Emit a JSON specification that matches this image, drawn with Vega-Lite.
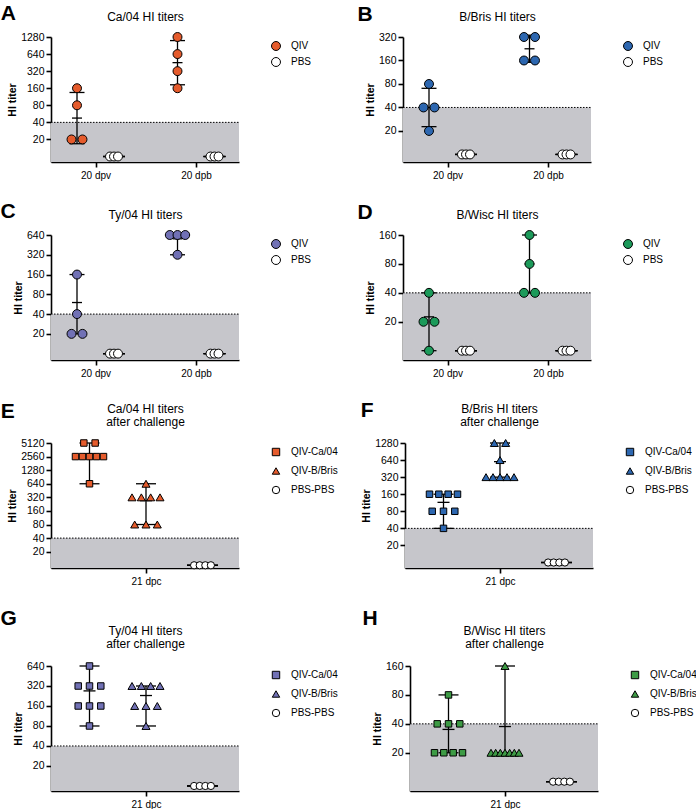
{
"$schema": "https://vega.github.io/schema/vega-lite/v6.json",
"padding": {"left": 0, "top": 2, "right": 2, "bottom": 0},
"config": {
 "font": "Liberation Sans",
 "view": {"stroke": null},
 "axis": {"grid": false, "domainColor": "black", "domainWidth": 1.6, "tickColor": "black", "tickWidth": 1.6, "tickSize": 5, "labelColor": "black", "labelFontSize": 10.5, "labelFont": "Liberation Sans", "labelPadding": 2, "titleFont": "Liberation Sans", "titleFontSize": 10.5, "titleFontWeight": "bold", "titleColor": "black", "titlePadding": 3, "labelOverlap": false, "labelFlush": false},
 "axisX": {"labelFontSize": 10, "labelPadding": 3},
 "legend": {"labelFont": "Liberation Sans", "labelFontSize": 10, "labelColor": "black", "symbolStrokeWidth": 1, "symbolSize": 80, "offset": 28, "padding": 4, "labelOffset": 10, "symbolOpacity": 1},
 "title": {"font": "Liberation Sans", "fontSize": 21, "fontWeight": "bold", "color": "black", "anchor": "start", "frame": "bounds", "offset": 0}
},
"datasets": {
 "lod": [{"lod": 40}],
 "pts": [
  {"p":"A","t":"20 dpv","g":"QIV","v":160},{"p":"A","t":"20 dpv","g":"QIV","v":80},{"p":"A","t":"20 dpv","g":"QIV","v":20},{"p":"A","t":"20 dpv","g":"QIV","v":20},
  {"p":"A","t":"20 dpv","g":"PBS","v":10},{"p":"A","t":"20 dpv","g":"PBS","v":10},{"p":"A","t":"20 dpv","g":"PBS","v":10},
  {"p":"A","t":"20 dpb","g":"QIV","v":1280},{"p":"A","t":"20 dpb","g":"QIV","v":640},{"p":"A","t":"20 dpb","g":"QIV","v":320},{"p":"A","t":"20 dpb","g":"QIV","v":160},
  {"p":"A","t":"20 dpb","g":"PBS","v":10},{"p":"A","t":"20 dpb","g":"PBS","v":10},{"p":"A","t":"20 dpb","g":"PBS","v":10},
  {"p":"B","t":"20 dpv","g":"QIV","v":80},{"p":"B","t":"20 dpv","g":"QIV","v":40},{"p":"B","t":"20 dpv","g":"QIV","v":40},{"p":"B","t":"20 dpv","g":"QIV","v":20},
  {"p":"B","t":"20 dpv","g":"PBS","v":10},{"p":"B","t":"20 dpv","g":"PBS","v":10},{"p":"B","t":"20 dpv","g":"PBS","v":10},
  {"p":"B","t":"20 dpb","g":"QIV","v":320},{"p":"B","t":"20 dpb","g":"QIV","v":320},{"p":"B","t":"20 dpb","g":"QIV","v":160},{"p":"B","t":"20 dpb","g":"QIV","v":160},
  {"p":"B","t":"20 dpb","g":"PBS","v":10},{"p":"B","t":"20 dpb","g":"PBS","v":10},{"p":"B","t":"20 dpb","g":"PBS","v":10},
  {"p":"C","t":"20 dpv","g":"QIV","v":160},{"p":"C","t":"20 dpv","g":"QIV","v":40},{"p":"C","t":"20 dpv","g":"QIV","v":20},{"p":"C","t":"20 dpv","g":"QIV","v":20},
  {"p":"C","t":"20 dpv","g":"PBS","v":10},{"p":"C","t":"20 dpv","g":"PBS","v":10},{"p":"C","t":"20 dpv","g":"PBS","v":10},
  {"p":"C","t":"20 dpb","g":"QIV","v":640},{"p":"C","t":"20 dpb","g":"QIV","v":640},{"p":"C","t":"20 dpb","g":"QIV","v":640},{"p":"C","t":"20 dpb","g":"QIV","v":320},
  {"p":"C","t":"20 dpb","g":"PBS","v":10},{"p":"C","t":"20 dpb","g":"PBS","v":10},{"p":"C","t":"20 dpb","g":"PBS","v":10},
  {"p":"D","t":"20 dpv","g":"QIV","v":40},{"p":"D","t":"20 dpv","g":"QIV","v":20},{"p":"D","t":"20 dpv","g":"QIV","v":20},{"p":"D","t":"20 dpv","g":"QIV","v":10},
  {"p":"D","t":"20 dpv","g":"PBS","v":10},{"p":"D","t":"20 dpv","g":"PBS","v":10},{"p":"D","t":"20 dpv","g":"PBS","v":10},
  {"p":"D","t":"20 dpb","g":"QIV","v":160},{"p":"D","t":"20 dpb","g":"QIV","v":80},{"p":"D","t":"20 dpb","g":"QIV","v":40},{"p":"D","t":"20 dpb","g":"QIV","v":40},
  {"p":"D","t":"20 dpb","g":"PBS","v":10},{"p":"D","t":"20 dpb","g":"PBS","v":10},{"p":"D","t":"20 dpb","g":"PBS","v":10},
  {"p":"E","t":"21 dpc","g":"QIV-Ca/04","v":5120},{"p":"E","t":"21 dpc","g":"QIV-Ca/04","v":5120},{"p":"E","t":"21 dpc","g":"QIV-Ca/04","v":2560},{"p":"E","t":"21 dpc","g":"QIV-Ca/04","v":2560},{"p":"E","t":"21 dpc","g":"QIV-Ca/04","v":2560},{"p":"E","t":"21 dpc","g":"QIV-Ca/04","v":2560},{"p":"E","t":"21 dpc","g":"QIV-Ca/04","v":2560},{"p":"E","t":"21 dpc","g":"QIV-Ca/04","v":640},
  {"p":"E","t":"21 dpc","g":"QIV-B/Bris","v":640},{"p":"E","t":"21 dpc","g":"QIV-B/Bris","v":320},{"p":"E","t":"21 dpc","g":"QIV-B/Bris","v":320},{"p":"E","t":"21 dpc","g":"QIV-B/Bris","v":320},{"p":"E","t":"21 dpc","g":"QIV-B/Bris","v":320},{"p":"E","t":"21 dpc","g":"QIV-B/Bris","v":80},{"p":"E","t":"21 dpc","g":"QIV-B/Bris","v":80},{"p":"E","t":"21 dpc","g":"QIV-B/Bris","v":80},
  {"p":"E","t":"21 dpc","g":"PBS-PBS","v":10},{"p":"E","t":"21 dpc","g":"PBS-PBS","v":10},{"p":"E","t":"21 dpc","g":"PBS-PBS","v":10},{"p":"E","t":"21 dpc","g":"PBS-PBS","v":10},
  {"p":"F","t":"21 dpc","g":"QIV-Ca/04","v":160},{"p":"F","t":"21 dpc","g":"QIV-Ca/04","v":160},{"p":"F","t":"21 dpc","g":"QIV-Ca/04","v":160},{"p":"F","t":"21 dpc","g":"QIV-Ca/04","v":160},{"p":"F","t":"21 dpc","g":"QIV-Ca/04","v":80},{"p":"F","t":"21 dpc","g":"QIV-Ca/04","v":80},{"p":"F","t":"21 dpc","g":"QIV-Ca/04","v":80},{"p":"F","t":"21 dpc","g":"QIV-Ca/04","v":40},
  {"p":"F","t":"21 dpc","g":"QIV-B/Bris","v":1280},{"p":"F","t":"21 dpc","g":"QIV-B/Bris","v":1280},{"p":"F","t":"21 dpc","g":"QIV-B/Bris","v":640},{"p":"F","t":"21 dpc","g":"QIV-B/Bris","v":320},{"p":"F","t":"21 dpc","g":"QIV-B/Bris","v":320},{"p":"F","t":"21 dpc","g":"QIV-B/Bris","v":320},{"p":"F","t":"21 dpc","g":"QIV-B/Bris","v":320},{"p":"F","t":"21 dpc","g":"QIV-B/Bris","v":320},
  {"p":"F","t":"21 dpc","g":"PBS-PBS","v":10},{"p":"F","t":"21 dpc","g":"PBS-PBS","v":10},{"p":"F","t":"21 dpc","g":"PBS-PBS","v":10},{"p":"F","t":"21 dpc","g":"PBS-PBS","v":10},
  {"p":"G","t":"21 dpc","g":"QIV-Ca/04","v":640},{"p":"G","t":"21 dpc","g":"QIV-Ca/04","v":320},{"p":"G","t":"21 dpc","g":"QIV-Ca/04","v":320},{"p":"G","t":"21 dpc","g":"QIV-Ca/04","v":320},{"p":"G","t":"21 dpc","g":"QIV-Ca/04","v":160},{"p":"G","t":"21 dpc","g":"QIV-Ca/04","v":160},{"p":"G","t":"21 dpc","g":"QIV-Ca/04","v":160},{"p":"G","t":"21 dpc","g":"QIV-Ca/04","v":80},
  {"p":"G","t":"21 dpc","g":"QIV-B/Bris","v":320},{"p":"G","t":"21 dpc","g":"QIV-B/Bris","v":320},{"p":"G","t":"21 dpc","g":"QIV-B/Bris","v":320},{"p":"G","t":"21 dpc","g":"QIV-B/Bris","v":320},{"p":"G","t":"21 dpc","g":"QIV-B/Bris","v":160},{"p":"G","t":"21 dpc","g":"QIV-B/Bris","v":160},{"p":"G","t":"21 dpc","g":"QIV-B/Bris","v":160},{"p":"G","t":"21 dpc","g":"QIV-B/Bris","v":80},
  {"p":"G","t":"21 dpc","g":"PBS-PBS","v":10},{"p":"G","t":"21 dpc","g":"PBS-PBS","v":10},{"p":"G","t":"21 dpc","g":"PBS-PBS","v":10},{"p":"G","t":"21 dpc","g":"PBS-PBS","v":10},
  {"p":"H","t":"21 dpc","g":"QIV-Ca/04","v":80},{"p":"H","t":"21 dpc","g":"QIV-Ca/04","v":40},{"p":"H","t":"21 dpc","g":"QIV-Ca/04","v":40},{"p":"H","t":"21 dpc","g":"QIV-Ca/04","v":40},{"p":"H","t":"21 dpc","g":"QIV-Ca/04","v":20},{"p":"H","t":"21 dpc","g":"QIV-Ca/04","v":20},{"p":"H","t":"21 dpc","g":"QIV-Ca/04","v":20},{"p":"H","t":"21 dpc","g":"QIV-Ca/04","v":20},
  {"p":"H","t":"21 dpc","g":"QIV-B/Bris","v":160},{"p":"H","t":"21 dpc","g":"QIV-B/Bris","v":20},{"p":"H","t":"21 dpc","g":"QIV-B/Bris","v":20},{"p":"H","t":"21 dpc","g":"QIV-B/Bris","v":20},{"p":"H","t":"21 dpc","g":"QIV-B/Bris","v":20},{"p":"H","t":"21 dpc","g":"QIV-B/Bris","v":20},{"p":"H","t":"21 dpc","g":"QIV-B/Bris","v":20},{"p":"H","t":"21 dpc","g":"QIV-B/Bris","v":20},
  {"p":"H","t":"21 dpc","g":"PBS-PBS","v":10},{"p":"H","t":"21 dpc","g":"PBS-PBS","v":10},{"p":"H","t":"21 dpc","g":"PBS-PBS","v":10},{"p":"H","t":"21 dpc","g":"PBS-PBS","v":10}
 ],
 "sum": [
  {"p":"A","t":"20 dpv","g":"QIV","m":47.6,"lo":16.8,"hi":134.6},{"p":"A","t":"20 dpv","g":"PBS","m":10,"lo":10,"hi":10},
  {"p":"A","t":"20 dpb","g":"QIV","m":452,"lo":184,"hi":1107},{"p":"A","t":"20 dpb","g":"PBS","m":10,"lo":10,"hi":10},
  {"p":"B","t":"20 dpv","g":"QIV","m":40,"lo":22.7,"hi":70.4},{"p":"B","t":"20 dpv","g":"PBS","m":10,"lo":10,"hi":10},
  {"p":"B","t":"20 dpb","g":"QIV","m":226,"lo":151.6,"hi":337.5},{"p":"B","t":"20 dpb","g":"PBS","m":10,"lo":10,"hi":10},
  {"p":"C","t":"20 dpv","g":"QIV","m":60,"lo":20,"hi":160},{"p":"C","t":"20 dpv","g":"PBS","m":10,"lo":10,"hi":10},
  {"p":"C","t":"20 dpb","g":"QIV","m":560,"lo":320,"hi":640},{"p":"C","t":"20 dpb","g":"PBS","m":10,"lo":10,"hi":10},
  {"p":"D","t":"20 dpv","g":"QIV","m":22.5,"lo":10,"hi":40},{"p":"D","t":"20 dpv","g":"PBS","m":10,"lo":10,"hi":10},
  {"p":"D","t":"20 dpb","g":"QIV","m":80,"lo":40,"hi":160},{"p":"D","t":"20 dpb","g":"PBS","m":10,"lo":10,"hi":10},
  {"p":"E","t":"21 dpc","g":"QIV-Ca/04","m":2960,"lo":640,"hi":5120},{"p":"E","t":"21 dpc","g":"QIV-B/Bris","m":270,"lo":80,"hi":640},{"p":"E","t":"21 dpc","g":"PBS-PBS","m":10,"lo":10,"hi":10},
  {"p":"F","t":"21 dpc","g":"QIV-Ca/04","m":115,"lo":40,"hi":160},{"p":"F","t":"21 dpc","g":"QIV-B/Bris","m":600,"lo":320,"hi":1280},{"p":"F","t":"21 dpc","g":"PBS-PBS","m":10,"lo":10,"hi":10},
  {"p":"G","t":"21 dpc","g":"QIV-Ca/04","m":270,"lo":80,"hi":640},{"p":"G","t":"21 dpc","g":"QIV-B/Bris","m":230,"lo":80,"hi":320},{"p":"G","t":"21 dpc","g":"PBS-PBS","m":10,"lo":10,"hi":10},
  {"p":"H","t":"21 dpc","g":"QIV-Ca/04","m":35,"lo":20,"hi":80},{"p":"H","t":"21 dpc","g":"QIV-B/Bris","m":37.5,"lo":20,"hi":160},{"p":"H","t":"21 dpc","g":"PBS-PBS","m":10,"lo":10,"hi":10}
 ]
},
"spacing": 21,
"resolve": {"scale": {"fill": "independent", "shape": "independent", "stroke": "independent"}},
"vconcat": [
 {"hconcat": [
  {"width": 188, "height": 125, "title": {"text": "A", "dx": -7, "dy": 17.5},
   "resolve": {"scale": {"x": "independent"}},
   "layer": [
    {"data": {"name": "lod"}, "layer": [
     {"mark": {"type": "rect", "color": "#C6C6CB"},
      "encoding": {"x": {"datum": -44.5, "type": "quantitative", "scale": {"domain": [-44.5, 143.5], "nice": false, "zero": false}, "axis": {"orient": "top", "title": "Ca/04 HI titers", "domain": false, "ticks": false, "labels": false, "titlePadding": 14, "titleFontSize": 12, "titleFontWeight": "normal"}},
       "x2": {"datum": 143.5},
       "y": {"field": "lod", "type": "quantitative", "scale": {"type": "log", "base": 2, "domain": [8, 1280], "nice": false}, "axis": {"values": [20,40,80,160,320,640,1280], "title": "HI titer", "format": "d"}},
       "y2": {"datum": 8}}},
     {"mark": {"type": "rule", "color": "black", "strokeWidth": 1, "strokeDash": [1.5, 1.5]},
      "encoding": {"x": {"datum": -44.5, "type": "quantitative"}, "x2": {"datum": 143.5}, "y": {"field": "lod", "type": "quantitative"}}}
    ]},
    {"layer": [
     {"data": {"name": "sum"}, "transform": [{"filter": "datum.p == 'A'"}, {"calculate": "(datum.t == '20 dpb' ? 100.5 : 0) + (datum.g == 'QIV' ? -18.5 : 18.5)", "as": "c"}],
      "encoding": {"x": {"field": "c", "type": "quantitative", "scale": {"domain": [-44.5, 143.5], "nice": false, "zero": false}, "axis": {"orient": "bottom", "values": [0, 100.5], "labelExpr": "datum.value == 0 ? '20 dpv' : '20 dpb'", "title": null}}},
      "layer": [
       {"mark": {"type": "rule", "color": "black", "strokeWidth": 1.3}, "encoding": {"y": {"field": "lo", "type": "quantitative"}, "y2": {"field": "hi"}}},
       {"mark": {"type": "tick", "orient": "horizontal", "color": "black", "thickness": 1.3, "opacity": 1}, "encoding": {"y": {"field": "lo", "type": "quantitative"}, "size": {"condition": {"test": "datum.g == 'PBS'", "value": 22}, "value": 15}}},
       {"mark": {"type": "tick", "orient": "horizontal", "color": "black", "thickness": 1.3, "opacity": 1}, "encoding": {"y": {"field": "hi", "type": "quantitative"}, "size": {"condition": {"test": "datum.g == 'PBS'", "value": 22}, "value": 15}}},
       {"mark": {"type": "tick", "orient": "horizontal", "color": "black", "thickness": 1.3, "opacity": 1}, "encoding": {"y": {"field": "m", "type": "quantitative"}, "size": {"condition": {"test": "datum.g == 'PBS'", "value": 22}, "value": 10}}}
      ]},
     {"data": {"name": "pts"}, "transform": [{"filter": "datum.p == 'A'"}, {"window": [{"op": "row_number", "as": "r"}, {"op": "count", "as": "n"}], "groupby": ["t", "g", "v"], "frame": [null, null]}, {"calculate": "(datum.t == '20 dpb' ? 100.5 : 0) + (datum.g == 'QIV' ? -18.5 : 18.5)", "as": "c"}, {"calculate": "datum.c + (datum.g == 'PBS' ? 4 : min(11, 15.4 / (datum.n - 1))) * (datum.r - (datum.n + 1) / 2)", "as": "xp"}],
      "mark": {"type": "point", "filled": true, "opacity": 1, "strokeWidth": 1, "size": 80},
      "encoding": {"x": {"field": "xp", "type": "quantitative"}, "y": {"field": "v", "type": "quantitative"},
       "fill": {"field": "g", "type": "nominal", "scale": {"domain": ["QIV", "PBS"], "range": ["#E55B2C", "white"]}, "legend": {"title": null, "rowPadding": 2}},
       "stroke": {"field": "g", "type": "nominal", "scale": {"domain": ["QIV", "PBS"], "range": ["black", "black"]}, "legend": {"title": null, "rowPadding": 2}},
       "shape": {"field": "g", "type": "nominal", "scale": {"domain": ["QIV", "PBS"], "range": ["circle", "circle"]}, "legend": {"title": null, "rowPadding": 2}}}}
    ]}
   ]},
  {"width": 188, "height": 125, "title": {"text": "B", "dx": -8, "dy": 19},
   "resolve": {"scale": {"x": "independent"}},
   "layer": [
    {"data": {"name": "lod"}, "layer": [
     {"mark": {"type": "rect", "color": "#C6C6CB"},
      "encoding": {"x": {"datum": -44.5, "type": "quantitative", "scale": {"domain": [-44.5, 143.5], "nice": false, "zero": false}, "axis": {"orient": "top", "title": "B/Bris HI titers", "domain": false, "ticks": false, "labels": false, "titlePadding": 14, "titleFontSize": 12, "titleFontWeight": "normal"}},
       "x2": {"datum": 143.5},
       "y": {"field": "lod", "type": "quantitative", "scale": {"type": "log", "base": 2, "domain": [8, 320], "nice": false}, "axis": {"values": [20,40,80,160,320], "title": "HI titer", "format": "d"}},
       "y2": {"datum": 8}}},
     {"mark": {"type": "rule", "color": "black", "strokeWidth": 1, "strokeDash": [1.5, 1.5]},
      "encoding": {"x": {"datum": -44.5, "type": "quantitative"}, "x2": {"datum": 143.5}, "y": {"field": "lod", "type": "quantitative"}}}
    ]},
    {"layer": [
     {"data": {"name": "sum"}, "transform": [{"filter": "datum.p == 'B'"}, {"calculate": "(datum.t == '20 dpb' ? 100.5 : 0) + (datum.g == 'QIV' ? -18.5 : 18.5)", "as": "c"}],
      "encoding": {"x": {"field": "c", "type": "quantitative", "scale": {"domain": [-44.5, 143.5], "nice": false, "zero": false}, "axis": {"orient": "bottom", "values": [0, 100.5], "labelExpr": "datum.value == 0 ? '20 dpv' : '20 dpb'", "title": null}}},
      "layer": [
       {"mark": {"type": "rule", "color": "black", "strokeWidth": 1.3}, "encoding": {"y": {"field": "lo", "type": "quantitative"}, "y2": {"field": "hi"}}},
       {"mark": {"type": "tick", "orient": "horizontal", "color": "black", "thickness": 1.3, "opacity": 1}, "encoding": {"y": {"field": "lo", "type": "quantitative"}, "size": {"condition": {"test": "datum.g == 'PBS'", "value": 22}, "value": 15}}},
       {"mark": {"type": "tick", "orient": "horizontal", "color": "black", "thickness": 1.3, "opacity": 1}, "encoding": {"y": {"field": "hi", "type": "quantitative"}, "size": {"condition": {"test": "datum.g == 'PBS'", "value": 22}, "value": 15}}},
       {"mark": {"type": "tick", "orient": "horizontal", "color": "black", "thickness": 1.3, "opacity": 1}, "encoding": {"y": {"field": "m", "type": "quantitative"}, "size": {"condition": {"test": "datum.g == 'PBS'", "value": 22}, "value": 10}}}
      ]},
     {"data": {"name": "pts"}, "transform": [{"filter": "datum.p == 'B'"}, {"window": [{"op": "row_number", "as": "r"}, {"op": "count", "as": "n"}], "groupby": ["t", "g", "v"], "frame": [null, null]}, {"calculate": "(datum.t == '20 dpb' ? 100.5 : 0) + (datum.g == 'QIV' ? -18.5 : 18.5)", "as": "c"}, {"calculate": "datum.c + (datum.g == 'PBS' ? 4 : min(11, 15.4 / (datum.n - 1))) * (datum.r - (datum.n + 1) / 2)", "as": "xp"}],
      "mark": {"type": "point", "filled": true, "opacity": 1, "strokeWidth": 1, "size": 80},
      "encoding": {"x": {"field": "xp", "type": "quantitative"}, "y": {"field": "v", "type": "quantitative"},
       "fill": {"field": "g", "type": "nominal", "scale": {"domain": ["QIV", "PBS"], "range": ["#2D67B0", "white"]}, "legend": {"title": null, "rowPadding": 2}},
       "stroke": {"field": "g", "type": "nominal", "scale": {"domain": ["QIV", "PBS"], "range": ["black", "black"]}, "legend": {"title": null, "rowPadding": 2}},
       "shape": {"field": "g", "type": "nominal", "scale": {"domain": ["QIV", "PBS"], "range": ["circle", "circle"]}, "legend": {"title": null, "rowPadding": 2}}}}
    ]}
   ]}
 ], "spacing": 41, "resolve": {"scale": {"fill": "independent", "shape": "independent", "stroke": "independent"}}},
 {"hconcat": [
  {"width": 188, "height": 125, "title": {"text": "C", "dx": -13, "dy": 18},
   "resolve": {"scale": {"x": "independent"}},
   "layer": [
    {"data": {"name": "lod"}, "layer": [
     {"mark": {"type": "rect", "color": "#C6C6CB"},
      "encoding": {"x": {"datum": -44.5, "type": "quantitative", "scale": {"domain": [-44.5, 143.5], "nice": false, "zero": false}, "axis": {"orient": "top", "title": "Ty/04 HI titers", "domain": false, "ticks": false, "labels": false, "titlePadding": 14, "titleFontSize": 12, "titleFontWeight": "normal"}},
       "x2": {"datum": 143.5},
       "y": {"field": "lod", "type": "quantitative", "scale": {"type": "log", "base": 2, "domain": [8, 640], "nice": false}, "axis": {"values": [20,40,80,160,320,640], "title": "HI titer", "format": "d"}},
       "y2": {"datum": 8}}},
     {"mark": {"type": "rule", "color": "black", "strokeWidth": 1, "strokeDash": [1.5, 1.5]},
      "encoding": {"x": {"datum": -44.5, "type": "quantitative"}, "x2": {"datum": 143.5}, "y": {"field": "lod", "type": "quantitative"}}}
    ]},
    {"layer": [
     {"data": {"name": "sum"}, "transform": [{"filter": "datum.p == 'C'"}, {"calculate": "(datum.t == '20 dpb' ? 100.5 : 0) + (datum.g == 'QIV' ? -18.5 : 18.5)", "as": "c"}],
      "encoding": {"x": {"field": "c", "type": "quantitative", "scale": {"domain": [-44.5, 143.5], "nice": false, "zero": false}, "axis": {"orient": "bottom", "values": [0, 100.5], "labelExpr": "datum.value == 0 ? '20 dpv' : '20 dpb'", "title": null}}},
      "layer": [
       {"mark": {"type": "rule", "color": "black", "strokeWidth": 1.3}, "encoding": {"y": {"field": "lo", "type": "quantitative"}, "y2": {"field": "hi"}}},
       {"mark": {"type": "tick", "orient": "horizontal", "color": "black", "thickness": 1.3, "opacity": 1}, "encoding": {"y": {"field": "lo", "type": "quantitative"}, "size": {"condition": {"test": "datum.g == 'PBS'", "value": 22}, "value": 15}}},
       {"mark": {"type": "tick", "orient": "horizontal", "color": "black", "thickness": 1.3, "opacity": 1}, "encoding": {"y": {"field": "hi", "type": "quantitative"}, "size": {"condition": {"test": "datum.g == 'PBS'", "value": 22}, "value": 15}}},
       {"mark": {"type": "tick", "orient": "horizontal", "color": "black", "thickness": 1.3, "opacity": 1}, "encoding": {"y": {"field": "m", "type": "quantitative"}, "size": {"condition": {"test": "datum.g == 'PBS'", "value": 22}, "value": 10}}}
      ]},
     {"data": {"name": "pts"}, "transform": [{"filter": "datum.p == 'C'"}, {"window": [{"op": "row_number", "as": "r"}, {"op": "count", "as": "n"}], "groupby": ["t", "g", "v"], "frame": [null, null]}, {"calculate": "(datum.t == '20 dpb' ? 100.5 : 0) + (datum.g == 'QIV' ? -18.5 : 18.5)", "as": "c"}, {"calculate": "datum.c + (datum.g == 'PBS' ? 4 : min(11, 15.4 / (datum.n - 1))) * (datum.r - (datum.n + 1) / 2)", "as": "xp"}],
      "mark": {"type": "point", "filled": true, "opacity": 1, "strokeWidth": 1, "size": 80},
      "encoding": {"x": {"field": "xp", "type": "quantitative"}, "y": {"field": "v", "type": "quantitative"},
       "fill": {"field": "g", "type": "nominal", "scale": {"domain": ["QIV", "PBS"], "range": ["#7171B5", "white"]}, "legend": {"title": null, "rowPadding": 2}},
       "stroke": {"field": "g", "type": "nominal", "scale": {"domain": ["QIV", "PBS"], "range": ["black", "black"]}, "legend": {"title": null, "rowPadding": 2}},
       "shape": {"field": "g", "type": "nominal", "scale": {"domain": ["QIV", "PBS"], "range": ["circle", "circle"]}, "legend": {"title": null, "rowPadding": 2}}}}
    ]}
   ]},
  {"width": 188, "height": 125, "title": {"text": "D", "dx": -8, "dy": 19},
   "resolve": {"scale": {"x": "independent"}},
   "layer": [
    {"data": {"name": "lod"}, "layer": [
     {"mark": {"type": "rect", "color": "#C6C6CB"},
      "encoding": {"x": {"datum": -44.5, "type": "quantitative", "scale": {"domain": [-44.5, 143.5], "nice": false, "zero": false}, "axis": {"orient": "top", "title": "B/Wisc HI titers", "domain": false, "ticks": false, "labels": false, "titlePadding": 14, "titleFontSize": 12, "titleFontWeight": "normal"}},
       "x2": {"datum": 143.5},
       "y": {"field": "lod", "type": "quantitative", "scale": {"type": "log", "base": 2, "domain": [8, 160], "nice": false}, "axis": {"values": [20,40,80,160], "title": "HI titer", "format": "d"}},
       "y2": {"datum": 8}}},
     {"mark": {"type": "rule", "color": "black", "strokeWidth": 1, "strokeDash": [1.5, 1.5]},
      "encoding": {"x": {"datum": -44.5, "type": "quantitative"}, "x2": {"datum": 143.5}, "y": {"field": "lod", "type": "quantitative"}}}
    ]},
    {"layer": [
     {"data": {"name": "sum"}, "transform": [{"filter": "datum.p == 'D'"}, {"calculate": "(datum.t == '20 dpb' ? 100.5 : 0) + (datum.g == 'QIV' ? -18.5 : 18.5)", "as": "c"}],
      "encoding": {"x": {"field": "c", "type": "quantitative", "scale": {"domain": [-44.5, 143.5], "nice": false, "zero": false}, "axis": {"orient": "bottom", "values": [0, 100.5], "labelExpr": "datum.value == 0 ? '20 dpv' : '20 dpb'", "title": null}}},
      "layer": [
       {"mark": {"type": "rule", "color": "black", "strokeWidth": 1.3}, "encoding": {"y": {"field": "lo", "type": "quantitative"}, "y2": {"field": "hi"}}},
       {"mark": {"type": "tick", "orient": "horizontal", "color": "black", "thickness": 1.3, "opacity": 1}, "encoding": {"y": {"field": "lo", "type": "quantitative"}, "size": {"condition": {"test": "datum.g == 'PBS'", "value": 22}, "value": 15}}},
       {"mark": {"type": "tick", "orient": "horizontal", "color": "black", "thickness": 1.3, "opacity": 1}, "encoding": {"y": {"field": "hi", "type": "quantitative"}, "size": {"condition": {"test": "datum.g == 'PBS'", "value": 22}, "value": 15}}},
       {"mark": {"type": "tick", "orient": "horizontal", "color": "black", "thickness": 1.3, "opacity": 1}, "encoding": {"y": {"field": "m", "type": "quantitative"}, "size": {"condition": {"test": "datum.g == 'PBS'", "value": 22}, "value": 10}}}
      ]},
     {"data": {"name": "pts"}, "transform": [{"filter": "datum.p == 'D'"}, {"window": [{"op": "row_number", "as": "r"}, {"op": "count", "as": "n"}], "groupby": ["t", "g", "v"], "frame": [null, null]}, {"calculate": "(datum.t == '20 dpb' ? 100.5 : 0) + (datum.g == 'QIV' ? -18.5 : 18.5)", "as": "c"}, {"calculate": "datum.c + (datum.g == 'PBS' ? 4 : min(11, 15.4 / (datum.n - 1))) * (datum.r - (datum.n + 1) / 2)", "as": "xp"}],
      "mark": {"type": "point", "filled": true, "opacity": 1, "strokeWidth": 1, "size": 80},
      "encoding": {"x": {"field": "xp", "type": "quantitative"}, "y": {"field": "v", "type": "quantitative"},
       "fill": {"field": "g", "type": "nominal", "scale": {"domain": ["QIV", "PBS"], "range": ["#1C9A5A", "white"]}, "legend": {"title": null, "rowPadding": 2}},
       "stroke": {"field": "g", "type": "nominal", "scale": {"domain": ["QIV", "PBS"], "range": ["black", "black"]}, "legend": {"title": null, "rowPadding": 2}},
       "shape": {"field": "g", "type": "nominal", "scale": {"domain": ["QIV", "PBS"], "range": ["circle", "circle"]}, "legend": {"title": null, "rowPadding": 2}}}}
    ]}
   ]}
 ], "spacing": 41, "resolve": {"scale": {"fill": "independent", "shape": "independent", "stroke": "independent"}}},
 {"hconcat": [
  {"width": 188, "height": 125, "title": {"text": "E", "dx": -7, "dy": 23},
   "resolve": {"scale": {"x": "independent"}},
   "layer": [
    {"data": {"name": "lod"}, "layer": [
     {"mark": {"type": "rect", "color": "#C6C6CB"},
      "encoding": {"x": {"datum": -95, "type": "quantitative", "scale": {"domain": [-95, 93], "nice": false, "zero": false}, "axis": {"orient": "top", "title": ["Ca/04 HI titers", "after challenge"], "titleLineHeight": 12.5, "domain": false, "ticks": false, "labels": false, "titlePadding": 15, "titleFontSize": 12, "titleFontWeight": "normal"}},
       "x2": {"datum": 93},
       "y": {"field": "lod", "type": "quantitative", "scale": {"type": "log", "base": 2, "domain": [8.7, 5120], "nice": false}, "axis": {"values": [20,40,80,160,320,640,1280,2560,5120], "title": "HI titer", "format": "d"}},
       "y2": {"datum": 8.7}}},
     {"mark": {"type": "rule", "color": "black", "strokeWidth": 1, "strokeDash": [1.5, 1.5]},
      "encoding": {"x": {"datum": -95, "type": "quantitative"}, "x2": {"datum": 93}, "y": {"field": "lod", "type": "quantitative"}}}
    ]},
    {"layer": [
     {"data": {"name": "sum"}, "transform": [{"filter": "datum.p == 'E'"}, {"calculate": "datum.g == 'QIV-Ca/04' ? -56.5 : (datum.g == 'QIV-B/Bris' ? 0 : 56.5)", "as": "c"}],
      "encoding": {"x": {"field": "c", "type": "quantitative", "scale": {"domain": [-95, 93], "nice": false, "zero": false}, "axis": {"orient": "bottom", "values": [0], "labelExpr": "'21 dpc'", "title": null}}},
      "layer": [
       {"mark": {"type": "rule", "color": "black", "strokeWidth": 1.3}, "encoding": {"y": {"field": "lo", "type": "quantitative"}, "y2": {"field": "hi"}}},
       {"mark": {"type": "tick", "orient": "horizontal", "color": "black", "thickness": 1.3, "opacity": 1}, "encoding": {"y": {"field": "lo", "type": "quantitative"}, "size": {"condition": {"test": "datum.g == 'PBS-PBS'", "value": 31}, "value": 20}}},
       {"mark": {"type": "tick", "orient": "horizontal", "color": "black", "thickness": 1.3, "opacity": 1}, "encoding": {"y": {"field": "hi", "type": "quantitative"}, "size": {"condition": {"test": "datum.g == 'PBS-PBS'", "value": 31}, "value": 20}}},
       {"mark": {"type": "tick", "orient": "horizontal", "color": "black", "thickness": 1.3, "opacity": 1}, "encoding": {"y": {"field": "m", "type": "quantitative"}, "size": {"condition": {"test": "datum.g == 'PBS-PBS'", "value": 31}, "value": 12}}}
      ]},
     {"data": {"name": "pts"}, "transform": [{"filter": "datum.p == 'E'"}, {"window": [{"op": "row_number", "as": "r"}, {"op": "count", "as": "n"}], "groupby": ["t", "g", "v"], "frame": [null, null]}, {"calculate": "datum.g == 'QIV-Ca/04' ? -56.5 : (datum.g == 'QIV-B/Bris' ? 0 : 56.5)", "as": "c"}, {"calculate": "datum.c + (datum.g == 'PBS-PBS' ? 5.6 : min(11.3, 28 / (datum.n - 1))) * (datum.r - (datum.n + 1) / 2)", "as": "xp"}],
      "mark": {"type": "point", "filled": true, "opacity": 1, "strokeWidth": 1},
      "encoding": {"x": {"field": "xp", "type": "quantitative"}, "y": {"field": "v", "type": "quantitative"},
       "size": {"condition": [{"test": "datum.g == 'QIV-B/Bris'", "value": 64}, {"test": "datum.g == 'PBS-PBS'", "value": 52}], "value": 42},
       "fill": {"field": "g", "type": "nominal", "scale": {"domain": ["QIV-Ca/04", "QIV-B/Bris", "PBS-PBS"], "range": ["#E55B2C", "#E55B2C", "white"]}, "legend": {"title": null, "symbolSize": 55, "rowPadding": 7}},
       "stroke": {"field": "g", "type": "nominal", "scale": {"domain": ["QIV-Ca/04", "QIV-B/Bris", "PBS-PBS"], "range": ["black", "black", "black"]}, "legend": {"title": null, "symbolSize": 55, "rowPadding": 7}},
       "shape": {"field": "g", "type": "nominal", "scale": {"domain": ["QIV-Ca/04", "QIV-B/Bris", "PBS-PBS"], "range": ["square", "triangle-up", "circle"]}, "legend": {"title": null, "symbolSize": 55, "rowPadding": 7}}}}
    ]}
   ]},
  {"width": 188, "height": 125, "title": {"text": "F", "dx": -1, "dy": 22},
   "resolve": {"scale": {"x": "independent"}},
   "layer": [
    {"data": {"name": "lod"}, "layer": [
     {"mark": {"type": "rect", "color": "#C6C6CB"},
      "encoding": {"x": {"datum": -95, "type": "quantitative", "scale": {"domain": [-95, 93], "nice": false, "zero": false}, "axis": {"orient": "top", "title": ["B/Bris HI titers", "after challenge"], "titleLineHeight": 12.5, "domain": false, "ticks": false, "labels": false, "titlePadding": 15, "titleFontSize": 12, "titleFontWeight": "normal"}},
       "x2": {"datum": 93},
       "y": {"field": "lod", "type": "quantitative", "scale": {"type": "log", "base": 2, "domain": [8, 1280], "nice": false}, "axis": {"values": [20,40,80,160,320,640,1280], "title": "HI titer", "format": "d"}},
       "y2": {"datum": 8}}},
     {"mark": {"type": "rule", "color": "black", "strokeWidth": 1, "strokeDash": [1.5, 1.5]},
      "encoding": {"x": {"datum": -95, "type": "quantitative"}, "x2": {"datum": 93}, "y": {"field": "lod", "type": "quantitative"}}}
    ]},
    {"layer": [
     {"data": {"name": "sum"}, "transform": [{"filter": "datum.p == 'F'"}, {"calculate": "datum.g == 'QIV-Ca/04' ? -56.5 : (datum.g == 'QIV-B/Bris' ? 0 : 56.5)", "as": "c"}],
      "encoding": {"x": {"field": "c", "type": "quantitative", "scale": {"domain": [-95, 93], "nice": false, "zero": false}, "axis": {"orient": "bottom", "values": [0], "labelExpr": "'21 dpc'", "title": null}}},
      "layer": [
       {"mark": {"type": "rule", "color": "black", "strokeWidth": 1.3}, "encoding": {"y": {"field": "lo", "type": "quantitative"}, "y2": {"field": "hi"}}},
       {"mark": {"type": "tick", "orient": "horizontal", "color": "black", "thickness": 1.3, "opacity": 1}, "encoding": {"y": {"field": "lo", "type": "quantitative"}, "size": {"condition": {"test": "datum.g == 'PBS-PBS'", "value": 31}, "value": 20}}},
       {"mark": {"type": "tick", "orient": "horizontal", "color": "black", "thickness": 1.3, "opacity": 1}, "encoding": {"y": {"field": "hi", "type": "quantitative"}, "size": {"condition": {"test": "datum.g == 'PBS-PBS'", "value": 31}, "value": 20}}},
       {"mark": {"type": "tick", "orient": "horizontal", "color": "black", "thickness": 1.3, "opacity": 1}, "encoding": {"y": {"field": "m", "type": "quantitative"}, "size": {"condition": {"test": "datum.g == 'PBS-PBS'", "value": 31}, "value": 12}}}
      ]},
     {"data": {"name": "pts"}, "transform": [{"filter": "datum.p == 'F'"}, {"window": [{"op": "row_number", "as": "r"}, {"op": "count", "as": "n"}], "groupby": ["t", "g", "v"], "frame": [null, null]}, {"calculate": "datum.g == 'QIV-Ca/04' ? -56.5 : (datum.g == 'QIV-B/Bris' ? 0 : 56.5)", "as": "c"}, {"calculate": "datum.c + (datum.g == 'PBS-PBS' ? 5.6 : min(11.3, 28 / (datum.n - 1))) * (datum.r - (datum.n + 1) / 2)", "as": "xp"}],
      "mark": {"type": "point", "filled": true, "opacity": 1, "strokeWidth": 1},
      "encoding": {"x": {"field": "xp", "type": "quantitative"}, "y": {"field": "v", "type": "quantitative"},
       "size": {"condition": [{"test": "datum.g == 'QIV-B/Bris'", "value": 64}, {"test": "datum.g == 'PBS-PBS'", "value": 52}], "value": 42},
       "fill": {"field": "g", "type": "nominal", "scale": {"domain": ["QIV-Ca/04", "QIV-B/Bris", "PBS-PBS"], "range": ["#2D67B0", "#2D67B0", "white"]}, "legend": {"title": null, "symbolSize": 55, "rowPadding": 7}},
       "stroke": {"field": "g", "type": "nominal", "scale": {"domain": ["QIV-Ca/04", "QIV-B/Bris", "PBS-PBS"], "range": ["black", "black", "black"]}, "legend": {"title": null, "symbolSize": 55, "rowPadding": 7}},
       "shape": {"field": "g", "type": "nominal", "scale": {"domain": ["QIV-Ca/04", "QIV-B/Bris", "PBS-PBS"], "range": ["square", "triangle-up", "circle"]}, "legend": {"title": null, "symbolSize": 55, "rowPadding": 7}}}}
    ]}
   ]}
 ], "spacing": 18, "resolve": {"scale": {"fill": "independent", "shape": "independent", "stroke": "independent"}}},
 {"hconcat": [
  {"width": 188, "height": 125, "title": {"text": "G", "dx": -13, "dy": 8},
   "resolve": {"scale": {"x": "independent"}},
   "layer": [
    {"data": {"name": "lod"}, "layer": [
     {"mark": {"type": "rect", "color": "#C6C6CB"},
      "encoding": {"x": {"datum": -95, "type": "quantitative", "scale": {"domain": [-95, 93], "nice": false, "zero": false}, "axis": {"orient": "top", "title": ["Ty/04 HI titers", "after challenge"], "titleLineHeight": 12.5, "domain": false, "ticks": false, "labels": false, "titlePadding": 16, "titleFontSize": 12, "titleFontWeight": "normal"}},
       "x2": {"datum": 93},
       "y": {"field": "lod", "type": "quantitative", "scale": {"type": "log", "base": 2, "domain": [8.4, 640], "nice": false}, "axis": {"values": [20,40,80,160,320,640], "title": "HI titer", "format": "d"}},
       "y2": {"datum": 8.4}}},
     {"mark": {"type": "rule", "color": "black", "strokeWidth": 1, "strokeDash": [1.5, 1.5]},
      "encoding": {"x": {"datum": -95, "type": "quantitative"}, "x2": {"datum": 93}, "y": {"field": "lod", "type": "quantitative"}}}
    ]},
    {"layer": [
     {"data": {"name": "sum"}, "transform": [{"filter": "datum.p == 'G'"}, {"calculate": "datum.g == 'QIV-Ca/04' ? -56.5 : (datum.g == 'QIV-B/Bris' ? 0 : 56.5)", "as": "c"}],
      "encoding": {"x": {"field": "c", "type": "quantitative", "scale": {"domain": [-95, 93], "nice": false, "zero": false}, "axis": {"orient": "bottom", "values": [0], "labelExpr": "'21 dpc'", "title": null}}},
      "layer": [
       {"mark": {"type": "rule", "color": "black", "strokeWidth": 1.3}, "encoding": {"y": {"field": "lo", "type": "quantitative"}, "y2": {"field": "hi"}}},
       {"mark": {"type": "tick", "orient": "horizontal", "color": "black", "thickness": 1.3, "opacity": 1}, "encoding": {"y": {"field": "lo", "type": "quantitative"}, "size": {"condition": {"test": "datum.g == 'PBS-PBS'", "value": 31}, "value": 20}}},
       {"mark": {"type": "tick", "orient": "horizontal", "color": "black", "thickness": 1.3, "opacity": 1}, "encoding": {"y": {"field": "hi", "type": "quantitative"}, "size": {"condition": {"test": "datum.g == 'PBS-PBS'", "value": 31}, "value": 20}}},
       {"mark": {"type": "tick", "orient": "horizontal", "color": "black", "thickness": 1.3, "opacity": 1}, "encoding": {"y": {"field": "m", "type": "quantitative"}, "size": {"condition": {"test": "datum.g == 'PBS-PBS'", "value": 31}, "value": 12}}}
      ]},
     {"data": {"name": "pts"}, "transform": [{"filter": "datum.p == 'G'"}, {"window": [{"op": "row_number", "as": "r"}, {"op": "count", "as": "n"}], "groupby": ["t", "g", "v"], "frame": [null, null]}, {"calculate": "datum.g == 'QIV-Ca/04' ? -56.5 : (datum.g == 'QIV-B/Bris' ? 0 : 56.5)", "as": "c"}, {"calculate": "datum.c + (datum.g == 'PBS-PBS' ? 5.6 : min(11.3, 28 / (datum.n - 1))) * (datum.r - (datum.n + 1) / 2)", "as": "xp"}],
      "mark": {"type": "point", "filled": true, "opacity": 1, "strokeWidth": 1},
      "encoding": {"x": {"field": "xp", "type": "quantitative"}, "y": {"field": "v", "type": "quantitative"},
       "size": {"condition": [{"test": "datum.g == 'QIV-B/Bris'", "value": 64}, {"test": "datum.g == 'PBS-PBS'", "value": 52}], "value": 42},
       "fill": {"field": "g", "type": "nominal", "scale": {"domain": ["QIV-Ca/04", "QIV-B/Bris", "PBS-PBS"], "range": ["#7171B5", "#7171B5", "white"]}, "legend": {"title": null, "symbolSize": 55, "rowPadding": 7}},
       "stroke": {"field": "g", "type": "nominal", "scale": {"domain": ["QIV-Ca/04", "QIV-B/Bris", "PBS-PBS"], "range": ["black", "black", "black"]}, "legend": {"title": null, "symbolSize": 55, "rowPadding": 7}},
       "shape": {"field": "g", "type": "nominal", "scale": {"domain": ["QIV-Ca/04", "QIV-B/Bris", "PBS-PBS"], "range": ["square", "triangle-up", "circle"]}, "legend": {"title": null, "symbolSize": 55, "rowPadding": 7}}}}
    ]}
   ]},
  {"width": 188, "height": 125, "title": {"text": "H", "dx": -10, "dy": 8},
   "resolve": {"scale": {"x": "independent"}},
   "layer": [
    {"data": {"name": "lod"}, "layer": [
     {"mark": {"type": "rect", "color": "#C6C6CB"},
      "encoding": {"x": {"datum": -95, "type": "quantitative", "scale": {"domain": [-95, 93], "nice": false, "zero": false}, "axis": {"orient": "top", "title": ["B/Wisc HI titers", "after challenge"], "titleLineHeight": 12.5, "domain": false, "ticks": false, "labels": false, "titlePadding": 16, "titleFontSize": 12, "titleFontWeight": "normal"}},
       "x2": {"datum": 93},
       "y": {"field": "lod", "type": "quantitative", "scale": {"type": "log", "base": 2, "domain": [8, 160], "nice": false}, "axis": {"values": [20,40,80,160], "title": "HI titer", "format": "d"}},
       "y2": {"datum": 8}}},
     {"mark": {"type": "rule", "color": "black", "strokeWidth": 1, "strokeDash": [1.5, 1.5]},
      "encoding": {"x": {"datum": -95, "type": "quantitative"}, "x2": {"datum": 93}, "y": {"field": "lod", "type": "quantitative"}}}
    ]},
    {"layer": [
     {"data": {"name": "sum"}, "transform": [{"filter": "datum.p == 'H'"}, {"calculate": "datum.g == 'QIV-Ca/04' ? -56.5 : (datum.g == 'QIV-B/Bris' ? 0 : 56.5)", "as": "c"}],
      "encoding": {"x": {"field": "c", "type": "quantitative", "scale": {"domain": [-95, 93], "nice": false, "zero": false}, "axis": {"orient": "bottom", "values": [0], "labelExpr": "'21 dpc'", "title": null}}},
      "layer": [
       {"mark": {"type": "rule", "color": "black", "strokeWidth": 1.3}, "encoding": {"y": {"field": "lo", "type": "quantitative"}, "y2": {"field": "hi"}}},
       {"mark": {"type": "tick", "orient": "horizontal", "color": "black", "thickness": 1.3, "opacity": 1}, "encoding": {"y": {"field": "lo", "type": "quantitative"}, "size": {"condition": {"test": "datum.g == 'PBS-PBS'", "value": 31}, "value": 20}}},
       {"mark": {"type": "tick", "orient": "horizontal", "color": "black", "thickness": 1.3, "opacity": 1}, "encoding": {"y": {"field": "hi", "type": "quantitative"}, "size": {"condition": {"test": "datum.g == 'PBS-PBS'", "value": 31}, "value": 20}}},
       {"mark": {"type": "tick", "orient": "horizontal", "color": "black", "thickness": 1.3, "opacity": 1}, "encoding": {"y": {"field": "m", "type": "quantitative"}, "size": {"condition": {"test": "datum.g == 'PBS-PBS'", "value": 31}, "value": 12}}}
      ]},
     {"data": {"name": "pts"}, "transform": [{"filter": "datum.p == 'H'"}, {"window": [{"op": "row_number", "as": "r"}, {"op": "count", "as": "n"}], "groupby": ["t", "g", "v"], "frame": [null, null]}, {"calculate": "datum.g == 'QIV-Ca/04' ? -56.5 : (datum.g == 'QIV-B/Bris' ? 0 : 56.5)", "as": "c"}, {"calculate": "datum.c + (datum.g == 'PBS-PBS' ? 5.6 : min(11.3, 28 / (datum.n - 1))) * (datum.r - (datum.n + 1) / 2)", "as": "xp"}],
      "mark": {"type": "point", "filled": true, "opacity": 1, "strokeWidth": 1},
      "encoding": {"x": {"field": "xp", "type": "quantitative"}, "y": {"field": "v", "type": "quantitative"},
       "size": {"condition": [{"test": "datum.g == 'QIV-B/Bris'", "value": 64}, {"test": "datum.g == 'PBS-PBS'", "value": 52}], "value": 42},
       "fill": {"field": "g", "type": "nominal", "scale": {"domain": ["QIV-Ca/04", "QIV-B/Bris", "PBS-PBS"], "range": ["#3D9B45", "#3D9B45", "white"]}, "legend": {"title": null, "symbolSize": 55, "rowPadding": 7}},
       "stroke": {"field": "g", "type": "nominal", "scale": {"domain": ["QIV-Ca/04", "QIV-B/Bris", "PBS-PBS"], "range": ["black", "black", "black"]}, "legend": {"title": null, "symbolSize": 55, "rowPadding": 7}},
       "shape": {"field": "g", "type": "nominal", "scale": {"domain": ["QIV-Ca/04", "QIV-B/Bris", "PBS-PBS"], "range": ["square", "triangle-up", "circle"]}, "legend": {"title": null, "symbolSize": 55, "rowPadding": 7}}}}
    ]}
   ]}
 ], "spacing": 20, "resolve": {"scale": {"fill": "independent", "shape": "independent", "stroke": "independent"}}}
]
}
